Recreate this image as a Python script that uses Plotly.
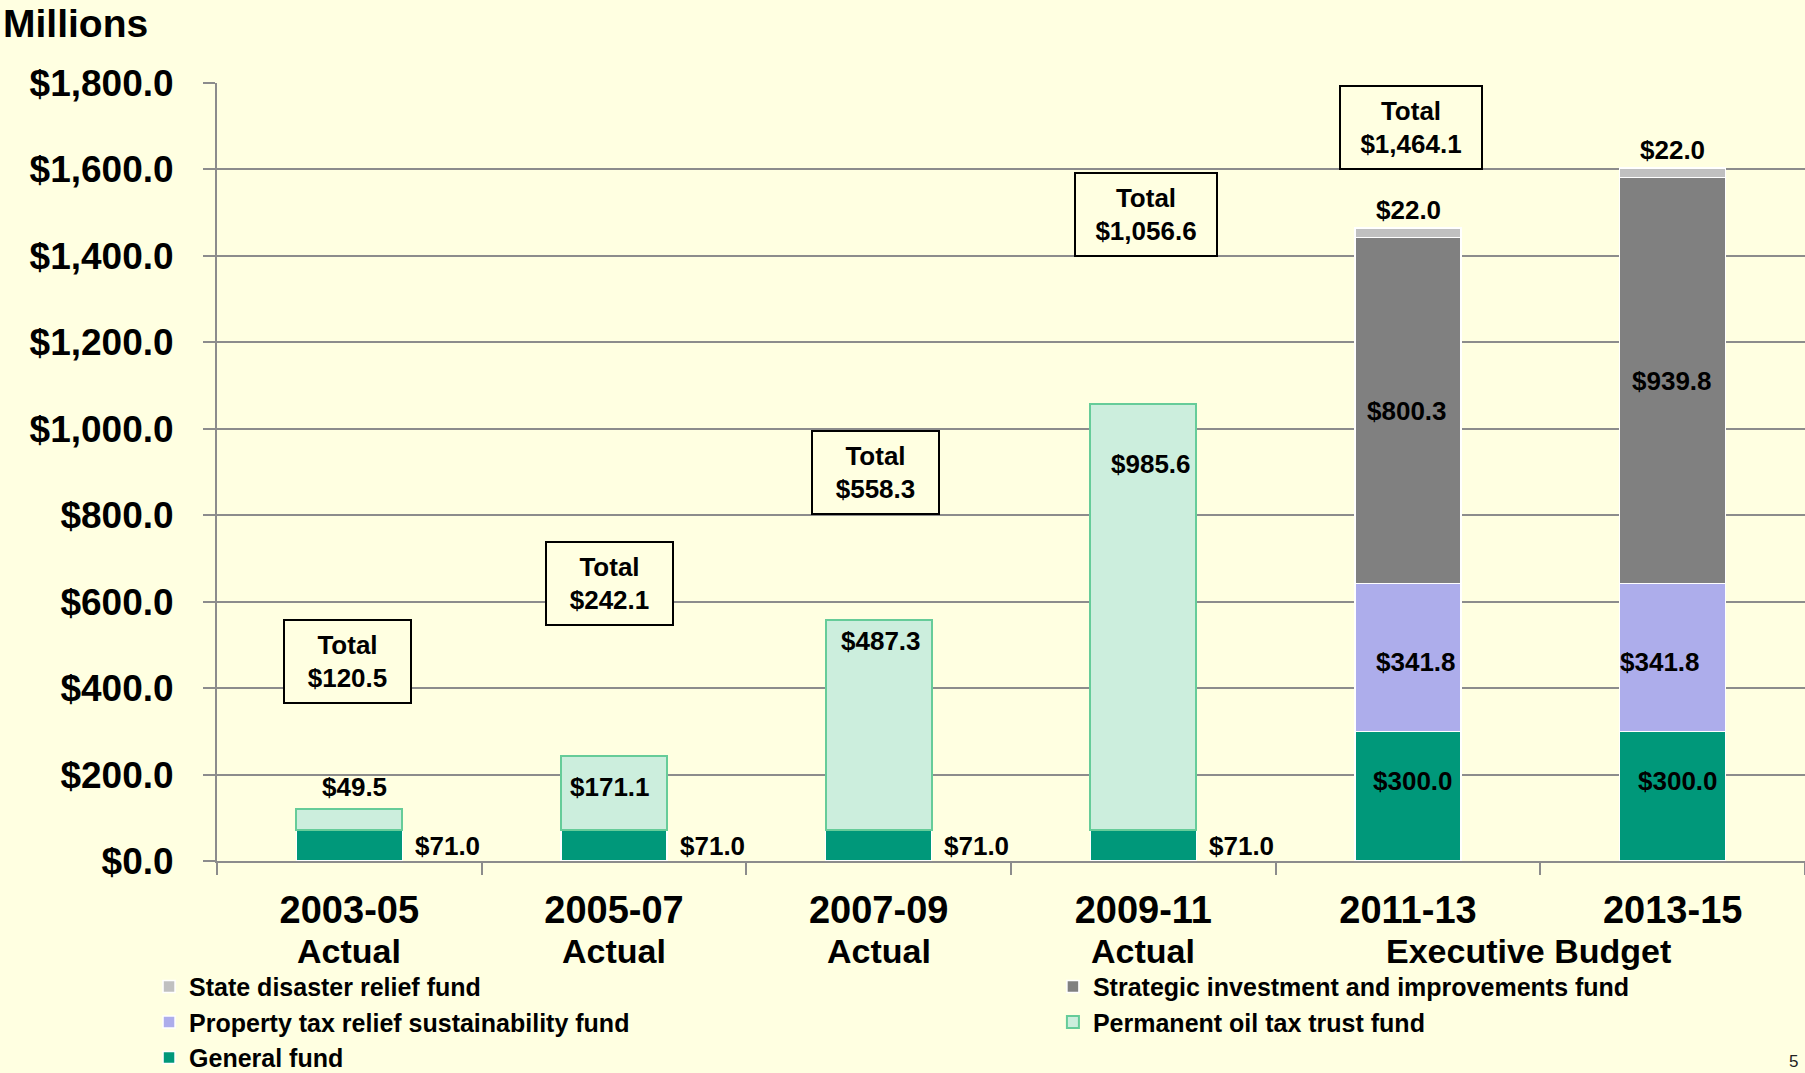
import plotly.graph_objects as go

# biennium categories and their x-axis notes
periods = ["2003-05", "2005-07", "2007-09", "2009-11", "2011-13", "2013-15"]
period_notes = ["Actual", "Actual", "Actual", "Actual"]
budget_note = "Executive Budget"

# fund amounts, $ millions (0 = fund not present that biennium)
general_fund = [71.0, 71.0, 71.0, 71.0, 300.0, 300.0]
oil_trust_fund = [49.5, 171.1, 487.3, 985.6, 0, 0]
property_tax_fund = [0, 0, 0, 0, 341.8, 341.8]
strategic_fund = [0, 0, 0, 0, 800.3, 939.8]
disaster_fund = [0, 0, 0, 0, 22.0, 22.0]
totals = [120.5, 242.1, 558.3, 1056.6, 1464.1, 1603.6]

y_ticks = [0, 200, 400, 600, 800, 1000, 1200, 1400, 1600, 1800]

FONT = "Liberation Sans, Arial, sans-serif"
BG = "#FFFFE1"
GRID = "#8C8C8C"


def money(v):
    return f"${v:,.1f}"


def present(values):
    return [v if v else None for v in values]


# name, values, fill, outline, outline width, legend, legend rank
series = [
    ("General fund", general_fund, "#00987A", "white", 1.5, "legend", 3),
    ("Permanent oil tax trust fund", oil_trust_fund, "#CCEEDD", "#66CC99", 2, "legend2", 2),
    ("Property tax relief sustainability fund", property_tax_fund, "#ADADEB", "white", 1.5, "legend", 2),
    ("Strategic investment and improvements fund", strategic_fund, "#808080", "white", 1.5, "legend2", 1),
    ("State disaster relief fund", disaster_fund, "#C0C0C0", "white", 1.5, "legend", 1),
]

fig = go.Figure()
for name, vals, fill, edge, ew, leg, rank in series:
    fig.add_trace(go.Bar(
        x=periods, y=present(vals), name=name, legend=leg, legendrank=rank,
        marker=dict(color=fill, line=dict(color=edge, width=ew)),
        hoverinfo="skip",
    ))

label_font = dict(family=FONT, size=26, color="black", weight="bold")


def label(x, y, text, xshift=0, yshift=0):
    fig.add_annotation(x=x, y=y, text=text, showarrow=False,
                       xshift=xshift, yshift=yshift, font=label_font)


# general fund labels
for i, p in enumerate(periods):
    if i < 4:
        label(p, general_fund[i] / 2, money(general_fund[i]), xshift=98)
    else:
        label(p, general_fund[i] / 2, money(general_fund[i]), xshift=5, yshift=15)

# oil trust fund labels (placed near top of segment)
oil_dy = [22, -31, -21, -60]
oil_dx = [5, -4, 2, 8]
for i in range(4):
    label(periods[i], general_fund[i] + oil_trust_fund[i], money(oil_trust_fund[i]),
          xshift=oil_dx[i], yshift=oil_dy[i])

# executive budget stacks
prop_dx = [8, -13]
for k, i in enumerate([4, 5]):
    base = general_fund[i]
    label(periods[i], base + property_tax_fund[i] / 2, money(property_tax_fund[i]),
          xshift=prop_dx[k], yshift=-5)
    base += property_tax_fund[i]
    label(periods[i], base + strategic_fund[i] / 2, money(strategic_fund[i]), xshift=-1)
    base += strategic_fund[i] + disaster_fund[i]
    label(periods[i], base, money(disaster_fund[i]), yshift=18)

# total boxes
box_lift = [340, 401, 341, 440, 232, 285]
box_dx = [-2, -5, -3, 3, 3, 11]
for i, p in enumerate(periods):
    txt = money(totals[i])
    fig.add_annotation(
        x=p, y=totals[i] + box_lift[i], text="Total<br>" + txt, showarrow=False,
        xshift=box_dx[i], font=label_font, align="center",
        bordercolor="black", borderwidth=2, borderpad=0, bgcolor=BG,
        width=125 if len(txt) <= 6 else 140, height=81,
    )

# second line of category labels
note_font = dict(family=FONT, size=34, color="black", weight="bold")
for i, note in enumerate(period_notes):
    fig.add_annotation(x=periods[i], y=-0.1157, yref="paper", text=note, showarrow=False,
                       yanchor="middle", font=note_font)
fig.add_annotation(x=4.5, y=-0.1157, yref="paper", text=budget_note, showarrow=False,
                   xshift=-12, yanchor="middle", font=note_font)

fig.add_annotation(xref="paper", yref="paper", x=-0.136, y=1.077, xanchor="left", yanchor="middle",
                   text="Millions", showarrow=False,
                   font=dict(family=FONT, size=39, color="black", weight="bold"))
fig.add_annotation(xref="paper", yref="paper", x=0.9925, y=-0.258, xanchor="center", yanchor="middle",
                   text="5", showarrow=False, font=dict(family=FONT, size=17, color="#222"))

legend_font = dict(family=FONT, size=25, color="black", weight="bold")
legend_top = -0.132
fig.update_layout(
    width=1805, height=1073,
    margin=dict(l=217, r=0, t=83, b=212, autoexpand=False),
    paper_bgcolor=BG, plot_bgcolor=BG,
    barmode="stack", bargap=0.6,
    font=dict(family=FONT, color="black"),
    showlegend=True,
    legend=dict(
        orientation="v", x=-0.0428, xanchor="left", y=legend_top, yanchor="top",
        font=legend_font, itemwidth=30, bgcolor="rgba(0,0,0,0)",
        traceorder="normal", itemclick=False, tracegroupgap=0,
    ),
    legend2=dict(
        orientation="v", x=0.5264, xanchor="left", y=legend_top, yanchor="top",
        font=legend_font, itemwidth=30, bgcolor="rgba(0,0,0,0)",
        traceorder="normal", itemclick=False, tracegroupgap=0,
    ),
    xaxis=dict(
        type="category", tickson="boundaries", ticks="outside", ticklen=12,
        tickcolor=GRID, tickwidth=2, showline=True, linecolor=GRID, linewidth=2,
        showgrid=False, tickfont=dict(family=FONT, size=38, color="black", weight="bold"),
        ticklabelstandoff=14,
    ),
    yaxis=dict(
        range=[0, 1800], tickvals=y_ticks, tickformat="$,.1f",
        ticks="outside", ticklen=12, tickcolor=GRID, tickwidth=2,
        showline=True, linecolor=GRID, linewidth=2,
        showgrid=True, gridcolor=GRID, gridwidth=2, zeroline=False,
        tickfont=dict(family=FONT, size=37, color="black", weight="bold"),
        ticklabelstandoff=22,
    ),
)

fig.write_html("out.html", config={"displayModeBar": False},
               post_script="document.body.style.margin='0';")
